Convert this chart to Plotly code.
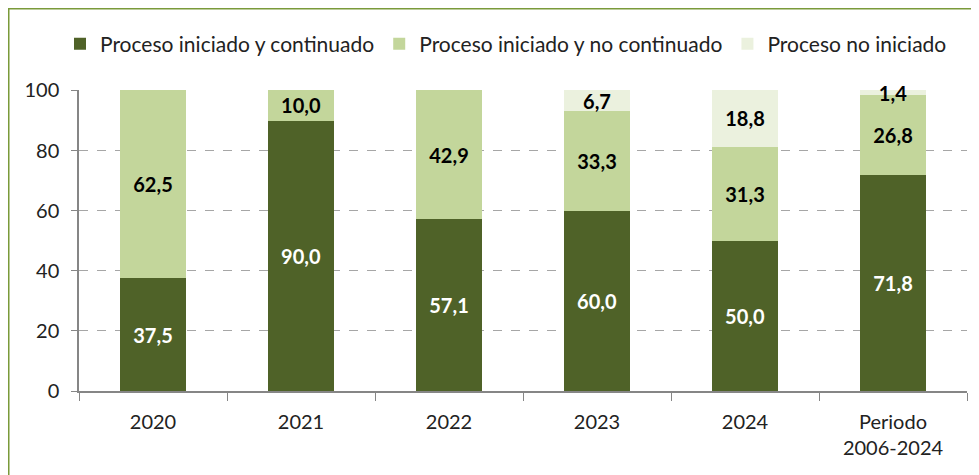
import plotly.graph_objects as go

categories = ["2020", "2021", "2022", "2023", "2024", "Periodo<br>2006-2024"]
series_names = ["Proceso iniciado y continuado", "Proceso iniciado y no continuado", "Proceso no iniciado"]
continuado = [37.5, 90.0, 57.1, 60.0, 50.0, 71.8]
no_continuado = [62.5, 10.0, 42.9, 33.3, 31.3, 26.8]
no_iniciado = [0.0, 0.0, 0.0, 6.7, 18.8, 1.4]
y_ticks = [0, 20, 40, 60, 80, 100]

colors = ["#4F6228", "#C3D69B", "#EBF1DE"]
text_colors = ["white", "black", "black"]

def fmt(v):
    return f"{v:.1f}".replace(".", ",") if v > 0 else ""

fig = go.Figure()
for name, vals, c, tc in zip(series_names, [continuado, no_continuado, no_iniciado], colors, text_colors):
    fig.add_trace(go.Bar(
        x=categories, y=vals, name=name,
        marker=dict(color=c, line=dict(width=0)),
        text=[fmt(v) for v in vals], textposition="inside", insidetextanchor="middle",
        textangle=0, constraintext="none", cliponaxis=False,
        textfont=dict(family="Lato", size=20, color=tc, weight="bold"),
        width=0.45, hoverinfo="skip",
    ))

W, H = 971, 467
fig.update_layout(
    barmode="stack",
    width=W, height=H,
    margin=dict(l=71, r=12, t=82, b=84, autoexpand=False),
    paper_bgcolor="white", plot_bgcolor="white",
    font=dict(family="Lato", size=20, color="#222222"),
    separators=",.",
    uniformtext=dict(minsize=20, mode="show"),
    legend=dict(orientation="h", x=52 / W, xanchor="left", xref="container",
                y=1 - 36 / H, yanchor="middle", yref="container",
                font=dict(size=21, color="#222222"), traceorder="normal",
                itemwidth=30, bgcolor="rgba(0,0,0,0)"),
    showlegend=True,
    xaxis=dict(type="category", showline=True, linecolor="#868686", linewidth=1.5,
               ticks="outside", ticklen=8, tickcolor="#868686", tickson="boundaries",
               ticklabelstandoff=12,
               showgrid=False, automargin=False, tickfont=dict(size=20, color="#222222")),
    yaxis=dict(range=[0, 100.15], tickvals=y_ticks, showline=True, linecolor="#868686", linewidth=1.5,
               ticks="outside", ticklen=6, tickcolor="#868686", automargin=False,
               ticklabelstandoff=8,
               showgrid=True, gridcolor="#A6A6A6", griddash="dash", gridwidth=1.3,
               zeroline=False, tickfont=dict(size=20, color="#222222")),
    shapes=[dict(type="rect", xref="paper", yref="paper", x0=-0.0791, x1=1.2, y0=-0.6, y1=1.2699,
                 line=dict(color="#7A9A3A", width=1.5), fillcolor="rgba(0,0,0,0)", layer="below")],
)

fig.write_html("out.html")
